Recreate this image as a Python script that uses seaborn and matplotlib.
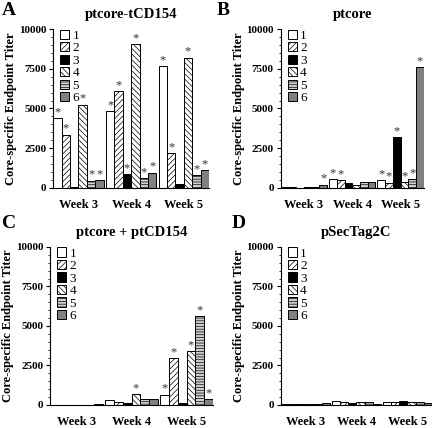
import pandas as pd
import seaborn as sns
import matplotlib.pyplot as plt
from matplotlib.ticker import MultipleLocator

weeks = ['Week 3', 'Week 4', 'Week 5']
groups = ['1', '2', '3', '4', '5', '6']

# titers per group, listed week 3, week 4, week 5
a_vals = {'1': [4400, 4850, 7650], '2': [3350, 6100, 2200], '3': [80, 850, 250],
          '4': [5250, 9050, 8200], '5': [450, 600, 800], '6': [500, 950, 1100]}
a_star = {'1': [1, 1, 1], '2': [1, 1, 1], '3': [0, 1, 0],
          '4': [1, 1, 1], '5': [1, 1, 1], '6': [1, 1, 1]}

b_vals = {'1': [60, 550, 500], '2': [40, 480, 320], '3': [20, 320, 3200],
          '4': [50, 200, 380], '5': [40, 400, 530], '6': [200, 350, 7600]}
b_star = {'1': [0, 1, 1], '2': [0, 1, 1], '3': [0, 0, 1],
          '4': [0, 0, 1], '5': [0, 0, 1], '6': [1, 0, 1]}

c_vals = {'1': [10, 320, 650], '2': [10, 180, 2950], '3': [10, 120, 100],
          '4': [20, 700, 3400], '5': [10, 350, 5600], '6': [80, 400, 350]}
c_star = {'1': [0, 0, 1], '2': [0, 0, 1], '3': [0, 0, 0],
          '4': [0, 1, 1], '5': [0, 0, 1], '6': [0, 0, 1]}

d_vals = {'1': [50, 250, 200], '2': [40, 180, 200], '3': [30, 130, 230],
          '4': [30, 200, 180], '5': [40, 200, 180], '6': [100, 50, 150]}
d_star = {g: [0, 0, 0] for g in groups}

colors = ['white', 'white', 'black', 'white', '#cfcfcf', '#808080']
hatches = ['', '//////', '', '\\\\\\\\\\\\', '------', '']

plt.rcParams['font.family'] = ['Liberation Serif', 'DejaVu Serif']
plt.rcParams['hatch.linewidth'] = 0.5

fig = plt.figure(figsize=(4.32, 4.28), dpi=100)

panels = [
    ('A', 'ptcore-tCD154', a_vals, a_star, [0.123, 0.561, 0.361, 0.371], (0.005, 0.995)),
    ('B', 'ptcore', b_vals, b_star, [0.650, 0.561, 0.331, 0.371], (0.502, 0.995)),
    ('C', 'ptcore + ptCD154', c_vals, c_star, [0.116, 0.054, 0.377, 0.369], (0.005, 0.497)),
    ('D', 'pSecTag2C', d_vals, d_star, [0.650, 0.054, 0.350, 0.369], (0.537, 0.497)),
]

for letter, title, vals, stars, pos, lpos in panels:
    ax = fig.add_axes(pos)
    df = pd.DataFrame([
        {'week': w, 'group': g, 'titer': vals[g][i]}
        for g in groups for i, w in enumerate(weeks)
    ])
    sns.barplot(data=df, x='week', y='titer', hue='group', hue_order=groups,
                order=weeks, palette=colors, edgecolor='black', linewidth=0.7,
                width=0.96, gap=0, legend=False, errorbar=None, ax=ax)
    for k, cont in enumerate(ax.containers):
        for i, p in enumerate(cont.patches):
            p.set_hatch(hatches[k])
            if stars[groups[k]][i]:
                ax.annotate('*', (p.get_x() + p.get_width() / 2, p.get_height()),
                            xytext=(0, 0), textcoords='offset points',
                            ha='center', va='bottom', fontsize=9, color='#333333')
    ax.legend(ax.containers, groups, loc='upper left', bbox_to_anchor=(0.01, 1.03),
              frameon=False, fontsize=9.5, handlelength=0.7, handleheight=0.7,
              handletextpad=0.25, labelspacing=0.02, borderaxespad=0)
    ax.set_ylim(0, 10000)
    ax.set_xlim(-0.48, 2.48)
    ax.yaxis.set_major_locator(MultipleLocator(2500))
    ax.yaxis.set_minor_locator(MultipleLocator(500))
    ax.tick_params(axis='y', which='major', length=3, labelsize=8, pad=2)
    ax.tick_params(axis='y', which='minor', length=1.5)
    ax.tick_params(axis='x', length=0, labelsize=9, pad=8)
    for lab in ax.get_xticklabels() + ax.get_yticklabels():
        lab.set_fontweight('bold')
    ax.set_xlabel('')
    ax.set_ylabel('Core-specific Endpoint Titer', fontsize=9, fontweight='bold', labelpad=1)
    ax.set_title(title, fontsize=10.5, fontweight='bold', pad=8)
    fig.text(lpos[0], lpos[1], letter, fontsize=14, fontweight='bold',
             va='top', ha='left')
    ax.spines['top'].set_visible(False)
    ax.spines['right'].set_visible(False)

fig.savefig('out.png', dpi=100)
